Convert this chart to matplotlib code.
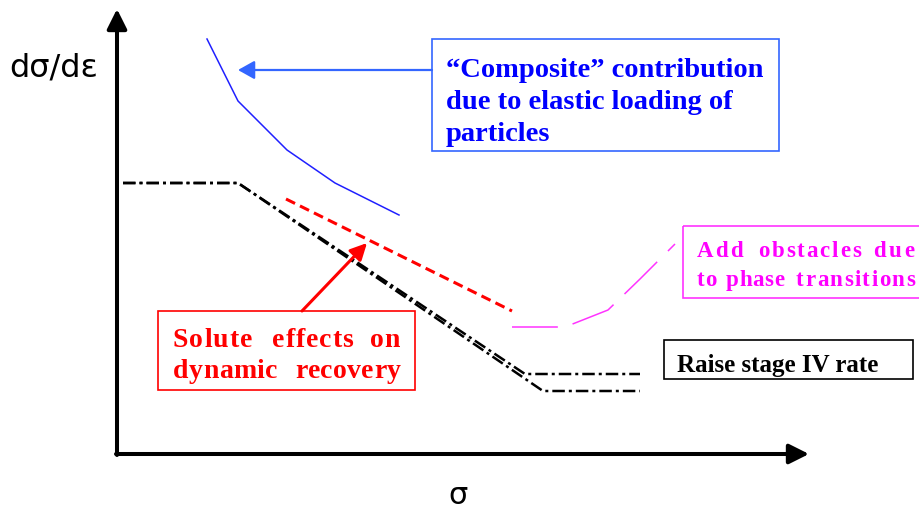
import matplotlib
matplotlib.use("Agg")
import matplotlib.pyplot as plt
from matplotlib.patches import Rectangle

# schematic curves, in figure pixel units (y grows downward)
blue_x = [207, 238, 287, 335, 399]
blue_y = [39, 101, 150, 183, 215]

red_x = [286, 512]
red_y = [199, 311]

magenta_x = [512, 565, 608, 640, 675]
magenta_y = [327, 327, 310, 279, 244]

# black stage curves: shared plateau + slope, then two stage IV levels
stage_upper_x = [123, 238, 525, 640]
stage_upper_y = [183, 183, 374, 374]
stage_lower_x = [123, 238, 543, 640]
stage_lower_y = [183, 183, 391, 391]

blue_lines = ["\u201cComposite\u201d contribution", "due to elastic loading of", "particles"]
red_lines = [["Solute", "effects", "on"], ["dynamic", "recovery"]]
magenta_lines = [["Add", "obstacles", "due"], ["to", "phase", "transitions"]]
black_label = "Raise stage IV rate"

# word spans (left, right) for the letter-spaced labels
red_spans = [[(173, 252), (272, 353), (370, 400)], [(173, 277), (295, 400)]]
magenta_spans = [[(697, 743), (758, 861), (873, 914)], [(697, 715), (726, 784), (796, 915)]]

serif = "Liberation Serif"

fig = plt.figure(figsize=(9.19, 5.09), dpi=100)
ax = fig.add_axes([0, 0, 1, 1])
ax.set_xlim(0, 919)
ax.set_ylim(509, 0)
ax.axis("off")
renderer = fig.canvas.get_renderer()

# axes arrows
axis_arrow = dict(arrowstyle="-|>,head_length=0.6,head_width=0.3",
                  lw=2.9, color="black", mutation_scale=20, shrinkA=0, shrinkB=0)
ax.annotate("", xy=(117, 9), xytext=(117, 455), arrowprops=axis_arrow)
ax.annotate("", xy=(809, 454), xytext=(116, 454), arrowprops=axis_arrow)

ax.text(9, 68, "dσ/dε", fontsize=23, ha="left", va="center", family="DejaVu Sans")
ax.text(458, 495, "σ", fontsize=22, ha="center", va="center", family="DejaVu Sans")

# curves
dashdot = (0, (5, 1.6, 1.2, 1.6))
ax.plot(stage_upper_x, stage_upper_y, color="black", lw=1.8, linestyle=dashdot)
ax.plot(stage_lower_x, stage_lower_y, color="black", lw=1.8, linestyle=dashdot)
ax.plot(blue_x, blue_y, color="#2020ff", lw=1.1)
ax.plot(red_x, red_y, color="#ff0000", lw=2.2, linestyle=(0, (3.3, 1.8)))
ax.plot(magenta_x, magenta_y, color="#ff33ff", lw=1.1, linestyle=(0, (30, 10)))


def spaced_word(word, x0, x1, y, **kw):
    # lay a word out char by char so it fills [x0, x1]
    widths = []
    for ch in word:
        t = ax.text(0, 0, ch, **kw)
        widths.append(t.get_window_extent(renderer).width)
        t.remove()
    gap = max((x1 - x0 - sum(widths)) / max(len(word) - 1, 1), 0.3)
    x = x0
    for ch, w in zip(word, widths):
        ax.text(x, y, ch, ha="left", va="baseline", **kw)
        x += w + gap


# blue annotation
ax.add_patch(Rectangle((432, 39), 347, 112, fill=False, ec="#3366ff", lw=1.2))
ax.annotate("", xy=(238, 70), xytext=(432, 70),
            arrowprops=dict(arrowstyle="-|>,head_length=0.5,head_width=0.28",
                            lw=1.6, color="#3366ff", mutation_scale=20,
                            shrinkA=0, shrinkB=0))
for line, base in zip(blue_lines, [77, 109, 141]):
    ax.text(446, base, line, fontsize=20.5, fontweight="bold", color="#0000ff",
            family=serif, ha="left", va="baseline")

# red annotation
ax.add_patch(Rectangle((158, 311), 257, 79, fill=False, ec="#ff0000", lw=1.2))
ax.annotate("", xy=(367, 243), xytext=(302, 311),
            arrowprops=dict(arrowstyle="-|>,head_length=0.5,head_width=0.25",
                            lw=2.2, color="#ff0000", mutation_scale=20,
                            shrinkA=0, shrinkB=0))
red_kw = dict(fontsize=20, fontweight="bold", color="#ff0000", family=serif)
for words, spans, base in zip(red_lines, red_spans, [347, 378]):
    for w, (x0, x1) in zip(words, spans):
        spaced_word(w, x0, x1, base, **red_kw)

# magenta annotation
ax.add_patch(Rectangle((683, 226), 240, 72, fill=False, ec="#ff33ff", lw=1.2))
mag_kw = dict(fontsize=16.5, fontweight="bold", color="#ff00ff", family=serif)
for words, spans, base in zip(magenta_lines, magenta_spans, [257, 286]):
    for w, (x0, x1) in zip(words, spans):
        spaced_word(w, x0, x1, base, **mag_kw)

# black annotation
ax.add_patch(Rectangle((664, 340), 249, 39, fill=False, ec="black", lw=1.2))
ax.text(677, 372, black_label, fontsize=18, fontweight="bold",
        color="black", family=serif, ha="left", va="baseline")

fig.savefig("out.png", dpi=100)
